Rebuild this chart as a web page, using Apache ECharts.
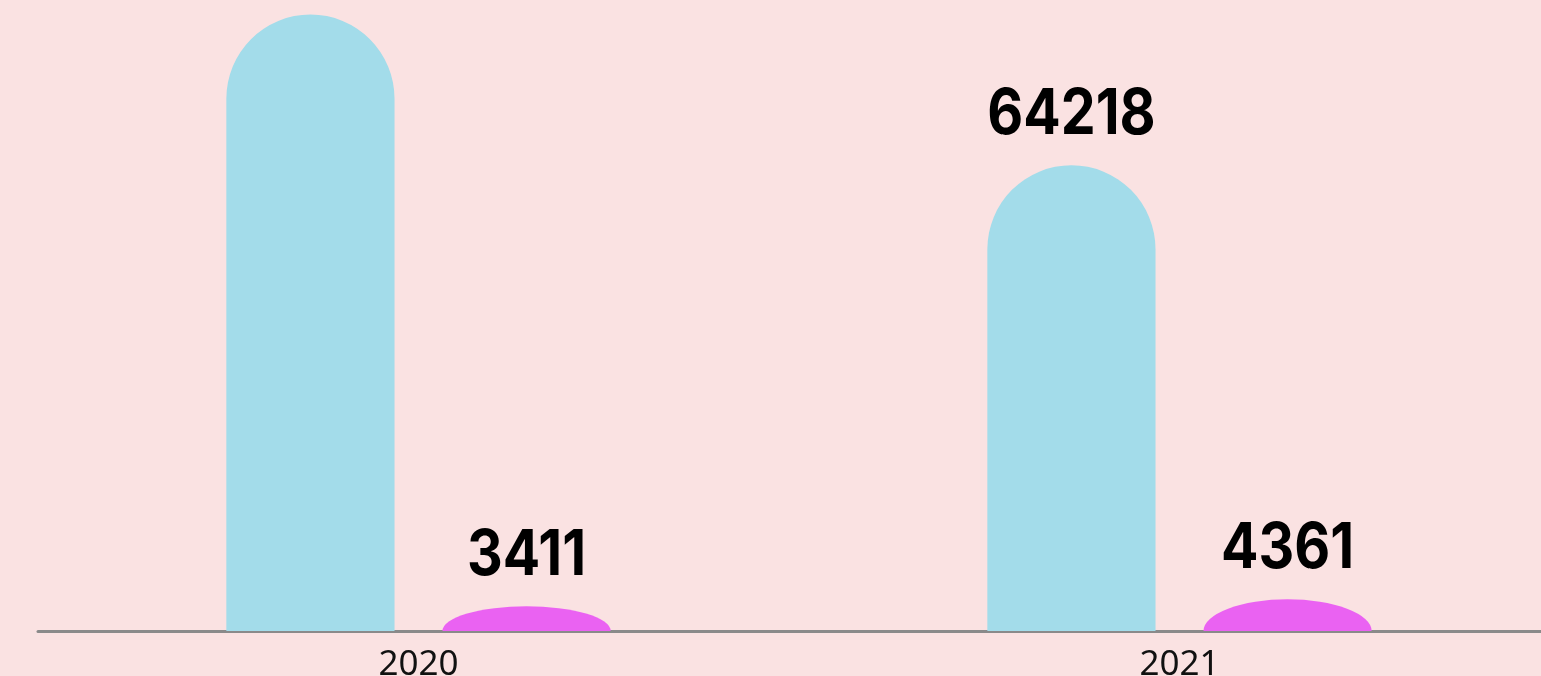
<!DOCTYPE html>
<html>
<head>
<meta charset="utf-8">
<script src="https://cdn.jsdelivr.net/npm/echarts@6/dist/echarts.min.js"></script>
<style>
html,body{margin:0;padding:0;background:#fae2e2;}
#chart{width:1541px;height:676px;}
</style>
</head>
<body>
<div id="chart"></div>
<script>
const categories = ['2020', '2021'];
const blueValues = [85000, 64218];
const magentaValues = [3411, 4361];

const BLUE = '#a3dcea';
const MAGENTA = '#ea62f2';
const LABEL_FONT = 'bold 63px Inter';

function makeRender(color, offsetFrac) {
  return function (params, api) {
    const cat = api.value(0);
    const val = api.value(1);
    const base = api.coord([cat, 0]);
    const top = api.coord([cat, val]);
    const bandW = api.size([1, 0])[0];
    const barW = bandW * 0.221;
    const cx = base[0] + bandW * offsetFrac;
    const l = cx - barW / 2, r = cx + barW / 2;
    const b = base[1], t = top[1];
    const h = b - t;
    const rx = barW / 2;
    const ry = Math.min(rx, h);
    const d = `M${l},${b} L${l},${t + ry} A${rx},${ry} 0 0 1 ${r},${t + ry} L${r},${b} Z`;
    return {
      type: 'group',
      children: [
        { type: 'path', shape: { pathData: d }, style: { fill: color } },
        {
          type: 'text', x: cx, y: t - 19, scaleX: 0.88,
          style: { text: String(val), x: 0, y: 0, align: 'center', verticalAlign: 'bottom', font: LABEL_FONT, fill: '#000' }
        }
      ]
    };
  };
}

const chart = echarts.init(document.getElementById('chart'));
chart.setOption({
  backgroundColor: '#fae2e2',
  animation: false,
  grid: { left: 38, width: 1522, top: 0, bottom: 45, containLabel: false, outerBoundsMode: 'none' },
  xAxis: {
    type: 'category',
    data: categories,
    axisLine: { lineStyle: { color: '#8a8a8a', width: 3 } },
    axisTick: { show: false },
    axisLabel: { color: '#111', fontSize: 35, fontFamily: 'Noto Sans', margin: 17 }
  },
  yAxis: { type: 'value', min: 0, max: 87000, show: false, splitLine: { show: false } },
  series: [
    { type: 'custom', clip: false, renderItem: makeRender(BLUE, -0.142), data: blueValues.map((v, i) => [i, v]) },
    { type: 'custom', clip: false, renderItem: makeRender(MAGENTA, 0.142), data: magentaValues.map((v, i) => [i, v]) }
  ]
});
</script>
</body>
</html>
